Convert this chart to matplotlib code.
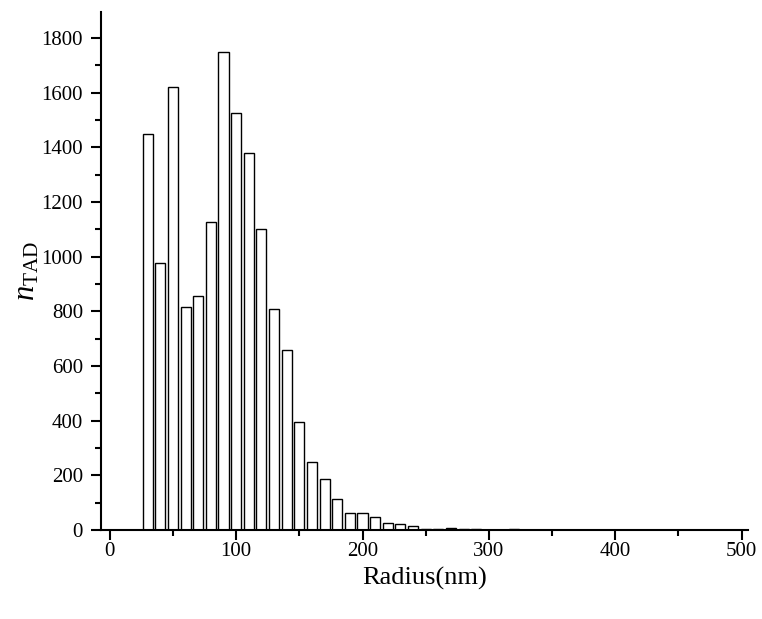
import matplotlib.pyplot as plt
from matplotlib.ticker import MultipleLocator

plt.rcParams["font.family"] = ["Liberation Serif", "DejaVu Serif"]
plt.rcParams["mathtext.fontset"] = "custom"
plt.rcParams["mathtext.rm"] = "Liberation Serif"
plt.rcParams["mathtext.it"] = "Liberation Serif:italic"

radius = [30, 40, 50, 60, 70, 80, 90, 100, 110, 120, 130, 140, 150, 160, 170,
          180, 190, 200, 210, 220, 230, 240, 250, 260, 270, 280, 290, 300,
          320, 330, 380, 390, 400, 410, 420, 460]
counts = [1450, 978, 1620, 815, 855, 1127, 1750, 1525, 1380, 1100, 810, 658,
          395, 248, 185, 113, 61, 63, 46, 27, 22, 15, 3, 5, 7, 2, 2, 1,
          4, 1, 1, 1, 1, 1, 1, 1]

fig = plt.figure(figsize=(7.62, 6.19), dpi=100)
ax = fig.add_axes([0.1325, 0.1438, 0.849, 0.837])

ax.bar(radius, counts, width=8, color="white", edgecolor="black", linewidth=1.0)

ax.set_xlim(-7, 505)
ax.set_ylim(0, 1895)
ax.xaxis.set_major_locator(MultipleLocator(100))
ax.xaxis.set_minor_locator(MultipleLocator(50))
ax.yaxis.set_major_locator(MultipleLocator(200))
ax.yaxis.set_minor_locator(MultipleLocator(100))

for side in ["top", "right"]:
    ax.spines[side].set_visible(False)
for side in ["left", "bottom"]:
    ax.spines[side].set_linewidth(1.5)

ax.tick_params(which="major", direction="out", length=7, width=1.5, labelsize=15)
ax.tick_params(which="minor", direction="out", length=4, width=1.5)
ax.tick_params(axis="y", which="major", pad=6)
ax.tick_params(axis="x", which="major", pad=2)

ax.set_xlabel("Radius(nm)", fontsize=19, labelpad=4)
ax.set_ylabel(r"$n_{\mathrm{TAD}}$", fontsize=22, labelpad=0)

fig.savefig("out.png", dpi=100)
